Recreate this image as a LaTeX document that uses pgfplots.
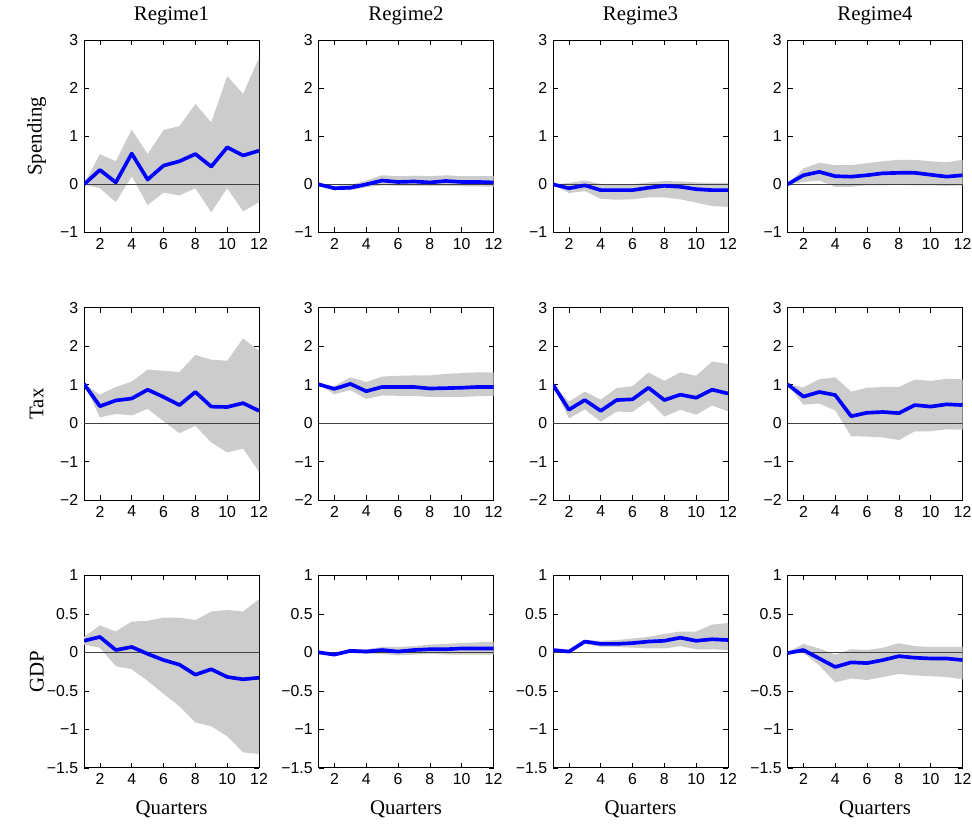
\documentclass[border=0pt]{standalone}
\usepackage{pgfplots}
\pgfplotsset{compat=1.18}
\usepackage{pgfplotstable}
\usepackage{fontspec}
\setmainfont{Liberation Serif}
\setsansfont{Liberation Sans}
\definecolor{band}{RGB}{204,204,204}
\definecolor{irfblue}{RGB}{0,0,255}

% ===== Spending =====
\pgfplotstableread[row sep=\\]{q m\\1 0\\2 0.30\\3 0.04\\4 0.64\\5 0.10\\6 0.39\\7 0.48\\8 0.63\\9 0.37\\10 0.77\\11 0.60\\12 0.70\\}\sAm
\pgfplotstableread[row sep=\\]{x y\\1 0\\2 0.63\\3 0.48\\4 1.14\\5 0.63\\6 1.13\\7 1.21\\8 1.67\\9 1.29\\10 2.25\\11 1.88\\12 2.63\\12 -0.37\\11 -0.56\\10 -0.08\\9 -0.58\\8 -0.08\\7 -0.23\\6 -0.17\\5 -0.43\\4 0.17\\3 -0.37\\2 -0.08\\1 0\\}\sAb

\pgfplotstableread[row sep=\\]{q m\\1 0\\2 -0.08\\3 -0.07\\4 0.00\\5 0.08\\6 0.05\\7 0.06\\8 0.04\\9 0.07\\10 0.05\\11 0.05\\12 0.04\\}\sBm
\pgfplotstableread[row sep=\\]{x y\\1 0\\2 -0.03\\3 -0.01\\4 0.08\\5 0.19\\6 0.17\\7 0.18\\8 0.17\\9 0.19\\10 0.17\\11 0.17\\12 0.17\\12 -0.05\\11 -0.04\\10 -0.04\\9 -0.03\\8 -0.04\\7 -0.03\\6 -0.03\\5 -0.02\\4 -0.06\\3 -0.12\\2 -0.12\\1 0\\}\sBb

\pgfplotstableread[row sep=\\]{q m\\1 0\\2 -0.08\\3 -0.02\\4 -0.12\\5 -0.12\\6 -0.12\\7 -0.07\\8 -0.03\\9 -0.05\\10 -0.10\\11 -0.12\\12 -0.12\\}\sCm
\pgfplotstableread[row sep=\\]{x y\\1 0\\2 0.03\\3 0.08\\4 0.01\\5 0.00\\6 0.00\\7 0.04\\8 0.07\\9 0.06\\10 0.04\\11 0.03\\12 0.03\\12 -0.47\\11 -0.45\\10 -0.38\\9 -0.31\\8 -0.27\\7 -0.27\\6 -0.31\\5 -0.32\\4 -0.30\\3 -0.14\\2 -0.18\\1 0\\}\sCb

\pgfplotstableread[row sep=\\]{q m\\1 0\\2 0.19\\3 0.26\\4 0.17\\5 0.16\\6 0.19\\7 0.23\\8 0.24\\9 0.24\\10 0.20\\11 0.16\\12 0.19\\}\sDm
\pgfplotstableread[row sep=\\]{x y\\1 0\\2 0.33\\3 0.45\\4 0.40\\5 0.40\\6 0.44\\7 0.48\\8 0.51\\9 0.51\\10 0.48\\11 0.46\\12 0.51\\12 -0.02\\11 -0.03\\10 -0.02\\9 -0.02\\8 -0.01\\7 -0.02\\6 -0.02\\5 -0.05\\4 -0.05\\3 0.08\\2 0.05\\1 0\\}\sDb

% ===== Tax =====
\pgfplotstableread[row sep=\\]{q m\\1 1.02\\2 0.44\\3 0.59\\4 0.64\\5 0.87\\6 0.68\\7 0.47\\8 0.81\\9 0.43\\10 0.42\\11 0.52\\12 0.32\\}\tAm
\pgfplotstableread[row sep=\\]{x y\\1 1.02\\2 0.74\\3 0.94\\4 1.08\\5 1.39\\6 1.36\\7 1.33\\8 1.77\\9 1.65\\10 1.62\\11 2.20\\12 1.88\\12 -1.26\\11 -0.66\\10 -0.76\\9 -0.50\\8 -0.07\\7 -0.26\\6 0.05\\5 0.37\\4 0.20\\3 0.24\\2 0.15\\1 1.02\\}\tAb

\pgfplotstableread[row sep=\\]{q m\\1 1.01\\2 0.89\\3 1.02\\4 0.83\\5 0.94\\6 0.94\\7 0.94\\8 0.90\\9 0.91\\10 0.92\\11 0.94\\12 0.94\\}\tBm
\pgfplotstableread[row sep=\\]{x y\\1 1.01\\2 0.96\\3 1.19\\4 1.07\\5 1.21\\6 1.23\\7 1.24\\8 1.24\\9 1.28\\10 1.30\\11 1.32\\12 1.32\\12 0.70\\11 0.70\\10 0.68\\9 0.68\\8 0.68\\7 0.71\\6 0.71\\5 0.72\\4 0.63\\3 0.86\\2 0.75\\1 1.01\\}\tBb

\pgfplotstableread[row sep=\\]{q m\\1 1.00\\2 0.35\\3 0.60\\4 0.32\\5 0.60\\6 0.62\\7 0.92\\8 0.60\\9 0.74\\10 0.66\\11 0.87\\12 0.77\\}\tCm
\pgfplotstableread[row sep=\\]{x y\\1 1.00\\2 0.56\\3 0.82\\4 0.61\\5 0.91\\6 0.96\\7 1.32\\8 1.10\\9 1.32\\10 1.23\\11 1.60\\12 1.54\\12 0.31\\11 0.46\\10 0.22\\9 0.35\\8 0.17\\7 0.59\\6 0.29\\5 0.30\\4 0.04\\3 0.36\\2 0.12\\1 1.00\\}\tCb

\pgfplotstableread[row sep=\\]{q m\\1 1.01\\2 0.69\\3 0.81\\4 0.73\\5 0.18\\6 0.27\\7 0.29\\8 0.26\\9 0.47\\10 0.43\\11 0.49\\12 0.47\\}\tDm
\pgfplotstableread[row sep=\\]{x y\\1 1.01\\2 0.93\\3 1.14\\4 1.19\\5 0.82\\6 0.92\\7 0.94\\8 0.94\\9 1.13\\10 1.10\\11 1.15\\12 1.14\\12 -0.17\\11 -0.16\\10 -0.21\\9 -0.21\\8 -0.44\\7 -0.37\\6 -0.35\\5 -0.34\\4 0.33\\3 0.51\\2 0.48\\1 1.01\\}\tDb

% ===== GDP =====
\pgfplotstableread[row sep=\\]{q m\\1 0.15\\2 0.20\\3 0.03\\4 0.07\\5 -0.02\\6 -0.10\\7 -0.16\\8 -0.29\\9 -0.22\\10 -0.32\\11 -0.35\\12 -0.33\\}\gAm
\pgfplotstableread[row sep=\\]{x y\\1 0.20\\2 0.35\\3 0.27\\4 0.40\\5 0.41\\6 0.45\\7 0.45\\8 0.42\\9 0.53\\10 0.55\\11 0.53\\12 0.69\\12 -1.32\\11 -1.30\\10 -1.09\\9 -0.96\\8 -0.91\\7 -0.70\\6 -0.54\\5 -0.37\\4 -0.22\\3 -0.18\\2 0.06\\1 0.10\\}\gAb

\pgfplotstableread[row sep=\\]{q m\\1 0.00\\2 -0.03\\3 0.02\\4 0.01\\5 0.03\\6 0.01\\7 0.03\\8 0.04\\9 0.04\\10 0.05\\11 0.05\\12 0.05\\}\gBm
\pgfplotstableread[row sep=\\]{x y\\1 0.00\\2 -0.02\\3 0.04\\4 0.04\\5 0.07\\6 0.07\\7 0.08\\8 0.10\\9 0.11\\10 0.12\\11 0.13\\12 0.14\\12 -0.03\\11 -0.03\\10 -0.03\\9 -0.03\\8 -0.02\\7 -0.03\\6 -0.04\\5 -0.02\\4 -0.02\\3 -0.01\\2 -0.04\\1 -0.01\\}\gBb

\pgfplotstableread[row sep=\\]{q m\\1 0.03\\2 0.01\\3 0.14\\4 0.11\\5 0.11\\6 0.12\\7 0.14\\8 0.15\\9 0.19\\10 0.15\\11 0.17\\12 0.16\\}\gCm
\pgfplotstableread[row sep=\\]{x y\\1 0.04\\2 0.02\\3 0.16\\4 0.15\\5 0.16\\6 0.18\\7 0.20\\8 0.24\\9 0.27\\10 0.27\\11 0.36\\12 0.38\\12 0.03\\11 0.04\\10 0.04\\9 0.08\\8 0.05\\7 0.05\\6 0.06\\5 0.07\\4 0.07\\3 0.11\\2 0.00\\1 0.02\\}\gCb

\pgfplotstableread[row sep=\\]{q m\\1 -0.01\\2 0.03\\3 -0.08\\4 -0.19\\5 -0.13\\6 -0.14\\7 -0.10\\8 -0.05\\9 -0.07\\10 -0.08\\11 -0.08\\12 -0.10\\}\gDm
\pgfplotstableread[row sep=\\]{x y\\1 0.00\\2 0.11\\3 0.05\\4 -0.03\\5 0.04\\6 0.03\\7 0.06\\8 0.12\\9 0.08\\10 0.07\\11 0.07\\12 0.07\\12 -0.35\\11 -0.32\\10 -0.31\\9 -0.30\\8 -0.28\\7 -0.32\\6 -0.36\\5 -0.34\\4 -0.39\\3 -0.17\\2 -0.01\\1 -0.02\\}\gDb

\pgfplotsset{
  irf/.style={
    scale only axis, width=105pt, height=115.5pt,
    anchor=north west,
    xmin=1, xmax=12,
    xtick={2,4,6,8,10,12},
    xticklabels={2,4,6,8,10,12},
    tick align=inside, tick pos=both, ticklabel pos=left,
    major tick length=3pt,
    axis line style={line width=0.5pt},
    every tick/.style={black, line width=0.4pt},
    tick label style={font=\sffamily\fontsize{9.5}{11}\selectfont},
    every axis title shift=0pt,
    title style={font=\fontsize{12.5}{14}\selectfont, at={(axis description cs:0.5,1.125)}, anchor=center},
    ylabel style={font=\fontsize{12.5}{14}\selectfont, at={(axis description cs:-0.27,0.5)}, anchor=center},
    xlabel style={font=\fontsize{12.5}{14}\selectfont, at={(axis description cs:0.5,-0.215)}, anchor=center},
  },
  rowS/.style={irf, ymin=-1, ymax=3, ytick={-1,0,1,2,3}, yticklabels={−1,0,1,2,3}},
  rowT/.style={irf, ymin=-2, ymax=3, ytick={-2,-1,0,1,2,3}, yticklabels={−2,−1,0,1,2,3}},
  rowG/.style={irf, ymin=-1.5, ymax=1, ytick={-1.5,-1,-0.5,0,0.5,1}, yticklabels={−1.5,−1,−0.5,0,0.5,1}},
}

\newcommand{\panel}[2]{%
  \addplot[fill=band, draw=none] table[x=x,y=y] {#2} -- cycle;
  \addplot[black!75, line width=0.5pt] coordinates {(1,0) (12,0)};
  \addplot[irfblue, line width=2.2pt, line join=round] table[x=q,y=m] {#1};
}

\begin{document}
\begin{tikzpicture}
% row 1
\begin{axis}[rowS, at={(50.4pt,-24pt)}, title={Regime1}, ylabel={Spending}]
\panel{\sAm}{\sAb}
\end{axis}
\begin{axis}[rowS, at={(191.1pt,-24pt)}, title={Regime2}]
\panel{\sBm}{\sBb}
\end{axis}
\begin{axis}[rowS, at={(331.8pt,-24pt)}, title={Regime3}]
\panel{\sCm}{\sCb}
\end{axis}
\begin{axis}[rowS, at={(472.5pt,-24pt)}, title={Regime4}]
\panel{\sDm}{\sDb}
\end{axis}
% row 2
\begin{axis}[rowT, at={(50.4pt,-184.6pt)}, ylabel={Tax}]
\panel{\tAm}{\tAb}
\end{axis}
\begin{axis}[rowT, at={(191.1pt,-184.6pt)}]
\panel{\tBm}{\tBb}
\end{axis}
\begin{axis}[rowT, at={(331.8pt,-184.6pt)}]
\panel{\tCm}{\tCb}
\end{axis}
\begin{axis}[rowT, at={(472.5pt,-184.6pt)}]
\panel{\tDm}{\tDb}
\end{axis}
% row 3
\begin{axis}[rowG, at={(50.4pt,-345.2pt)}, ylabel={GDP}, xlabel={Quarters}]
\panel{\gAm}{\gAb}
\end{axis}
\begin{axis}[rowG, at={(191.1pt,-345.2pt)}, xlabel={Quarters}]
\panel{\gBm}{\gBb}
\end{axis}
\begin{axis}[rowG, at={(331.8pt,-345.2pt)}, xlabel={Quarters}]
\panel{\gCm}{\gCb}
\end{axis}
\begin{axis}[rowG, at={(472.5pt,-345.2pt)}, xlabel={Quarters}]
\panel{\gDm}{\gDb}
\end{axis}
\pgfresetboundingbox
\path (0,0) rectangle (583.2pt,-495pt);
\end{tikzpicture}
\end{document}
